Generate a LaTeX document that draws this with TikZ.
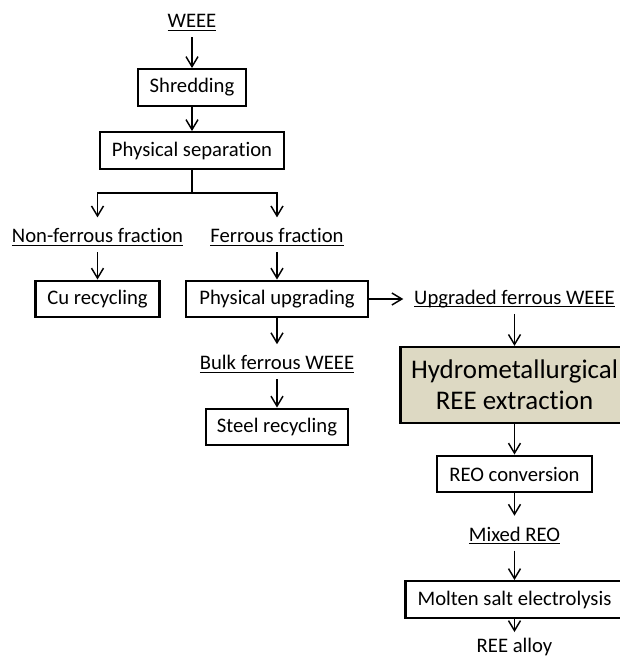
\documentclass[tikz,border=0pt]{standalone}
\usepackage{fontspec}
\setmainfont{Carlito}[Ligatures=NoCommon]
\usetikzlibrary{arrows.meta, positioning}
\definecolor{tanfill}{RGB}{221,217,195}
% underline at a fixed depth, as the drawing program does
\newcommand{\ulabel}[1]{\setbox0=\hbox{#1}\rlap{\rule[-2.4pt]{\wd0}{0.8pt}}\box0\vphantom{Hy}}

\begin{document}
\begin{tikzpicture}[x=0.75pt,y=0.75pt,yscale=-1,xscale=1,
  box/.style={draw, line width=1.7pt, inner sep=0pt, minimum height=27.5pt, font=\fontsize{15.5}{18}\selectfont},
  lbl/.style={anchor=base, inner sep=2pt, font=\fontsize{15.5}{18}\selectfont},
  arr/.style={-{Straight Barb[length=7.5pt,width=9pt]}, line width=1.1pt},
  tolbl/.style={arr, shorten >=6pt},
  fromlbl/.style={arr, shorten <=2.5pt}
]
\useasboundingbox (0,0) rectangle (619,658);

% Text Node
\node [lbl] (weee) at (192,27.5) {\ulabel{WEEE}};
%Shape: Rectangle
\node [box, minimum width=81pt] (shred) at (192,87.5) {Shredding};
%Shape: Rectangle
\node [box, minimum width=138pt] (physsep) at (192,150.5) {Physical separation};
\coordinate (split) at (192,193);

% Text Node
\node [lbl] (nonfer) at (97.5,242.5) {\ulabel{Non-ferrous fraction}};
% Text Node
\node [lbl] (fer) at (277,242.5) {\ulabel{Ferrous fraction}};
%Shape: Rectangle
\node [box, minimum width=93pt] (cu) at (97.5,299) {Cu recycling};
%Shape: Rectangle
\node [box, minimum width=136pt] (upgr) at (277,299) {Physical upgrading};
% Text Node
\node [lbl] (bulk) at (277,369.5) {\ulabel{Bulk ferrous WEEE}};
%Shape: Rectangle
\node [box, minimum width=107pt] (steel) at (277,427) {Steel recycling};

% Text Node
\node [lbl] (upfer) at (514.5,304) {\ulabel{Upgraded ferrous WEEE}};
%Shape: Rectangle
\node [box, fill=tanfill, minimum width=171pt, minimum height=57pt, align=center, font=\fontsize{20.2}{23}\selectfont] (hydro) at (514.5,385) {Hydrometallurgical\\REE extraction};
%Shape: Rectangle
\node [box, minimum width=116pt] (reoconv) at (514.5,474) {REO conversion};
% Text Node
\node [lbl] (mixed) at (514.5,541) {\ulabel{Mixed REO}};
%Shape: Rectangle
\node [box, minimum width=163.5pt] (molten) at (514.5,599.5) {Molten salt electrolysis};
% Text Node
\node [lbl] (alloy) at (514.5,652) {REE alloy};

%Straight Lines
\draw [fromlbl] (weee) -- (shred);
\draw [arr] (shred) -- (physsep);
\draw [line width=1.1pt] (physsep) -- (split);
\draw [tolbl] (split) -| (nonfer);
\draw [tolbl] (split) -| (fer);
\draw [fromlbl] (nonfer) -- (cu);
\draw [fromlbl] (fer) -- (upgr);
\draw [tolbl] (upgr) -- (bulk);
\draw [fromlbl] (bulk) -- (steel);
\draw [tolbl] (upgr.east) -- (upgr.east -| upfer.west);
\draw [fromlbl] (upfer) -- (hydro);
\draw [arr] (hydro) -- (reoconv);
\draw [tolbl] (reoconv) -- (mixed);
\draw [fromlbl] (mixed) -- (molten);
\draw [arr, shorten >=2pt] (molten) -- (alloy);

\end{tikzpicture}
\end{document}
